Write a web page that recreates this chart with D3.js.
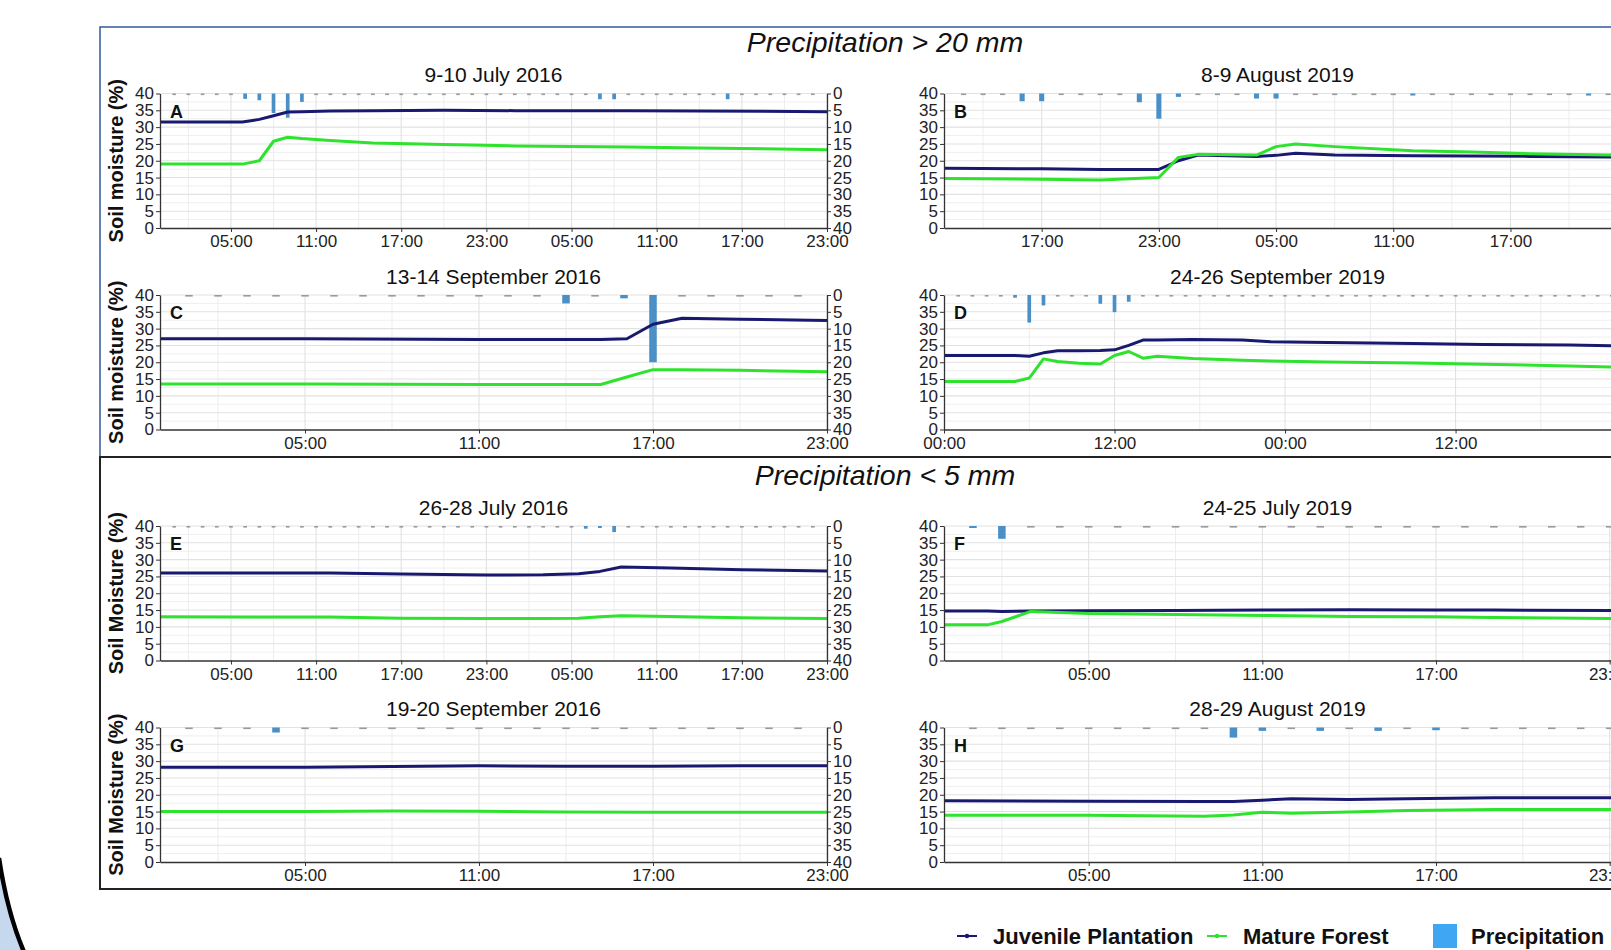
<!DOCTYPE html>
<html>
<head>
<meta charset="utf-8">
<script src="https://cdn.jsdelivr.net/npm/d3@7"></script>
<style>
  body { margin: 0; background: #fff; overflow: hidden; }
  svg { display: block; font-family: "Liberation Sans", Arial, sans-serif; }
</style>
</head>
<body>
<svg id="chart" width="1611" height="950"></svg>
<script>
// soil moisture (%) at breakpoint hours (hours from 00:00 of the first day)
const hoursA = [0, 5.8, 7, 8, 9, 10, 12, 15, 20, 25, 33, 38, 47];
const juvA   = [31.5, 31.5, 32.3, 33.4, 34.5, 34.6, 34.8, 34.9, 35, 34.9, 34.9, 34.8, 34.6];
const matA   = [19, 19, 20, 25.8, 27, 26.6, 26, 25.3, 24.8, 24.4, 24.1, 23.8, 23.3];

const hoursB = [12, 17, 20, 23, 24, 25, 28, 29, 30, 32, 36, 39, 42, 46.3];
const juvB   = [17.8, 17.6, 17.4, 17.4, 20, 21.7, 21.3, 21.6, 22.2, 21.7, 21.5, 21.4, 21.3, 21.1];
const matB   = [14.7, 14.5, 14.3, 15, 21, 21.9, 21.7, 24.2, 25, 24.2, 23, 22.6, 22.1, 21.7];

const hoursC = [0, 5, 11, 15.2, 16.1, 17, 18, 20, 23];
const juvC   = [27, 27, 26.8, 26.8, 27, 31.3, 33.1, 32.8, 32.4];
const matC   = [13.5, 13.5, 13.4, 13.4, 15.6, 17.8, 17.8, 17.6, 17.2];

const hoursD = [0, 5, 6, 7, 8, 9.5, 11, 12, 13, 14, 15, 17.5, 21, 23, 27, 33, 38, 44, 47.15];
const juvD   = [22, 22, 21.8, 22.8, 23.4, 23.4, 23.5, 23.7, 25, 26.6, 26.6, 26.8, 26.6, 26.1, 25.9, 25.6, 25.3, 25.1, 24.9];
const matD   = [14.3, 14.3, 15.3, 21, 20.2, 19.7, 19.5, 22, 23.2, 21.2, 21.8, 21.1, 20.6, 20.4, 20.1, 19.8, 19.4, 18.9, 18.6];

const hoursE = [0, 12, 17, 23, 27, 29.5, 31, 32.5, 36, 41, 47];
const juvE   = [26, 26, 25.7, 25.4, 25.5, 25.8, 26.5, 27.8, 27.5, 27, 26.6];
const matE   = [13, 12.9, 12.6, 12.5, 12.5, 12.6, 13, 13.3, 13.1, 12.7, 12.5];

const hoursF = [0, 1.5, 2, 3, 5, 8, 11, 14, 17, 19, 23.15];
const juvF   = [14.7, 14.7, 14.6, 14.7, 14.8, 14.9, 15, 15.1, 15, 15, 14.9];
const matF   = [10.6, 10.6, 11.6, 14.6, 14.0, 13.7, 13.4, 13.1, 13.0, 12.8, 12.5];

const hoursG = [0, 5, 8, 11, 14, 17, 20, 23];
const juvG   = [28.2, 28.2, 28.4, 28.6, 28.5, 28.5, 28.6, 28.6];
const matG   = [15, 15, 15.2, 15.1, 14.9, 14.8, 14.8, 14.8];

const hoursH = [0, 5, 9, 10, 11, 12, 14, 16, 19, 23.15];
const juvH   = [18.2, 18.1, 18, 18, 18.4, 18.8, 18.6, 18.8, 19.1, 19.1];
const matH   = [13.9, 13.9, 13.6, 14, 14.8, 14.5, 14.9, 15.3, 15.6, 15.6];

// hourly precipitation (mm), first value at the panel's start hour
const rainA = [0,0,0,0,0,0,1.6,2.0,5.8,7.2,2.5,0,0,0,0,0,0,0,0,0,0,0,0,0,
               0,0,0,0,0,0,0,1.7,1.7,0,0,0,0,0,0,0,1.7,0,0,0,0,0,0,0];
const rainB = [0,0,0,0,2.3,2.3,0,0,0,0,2.6,7.5,1.0,0,0,0,1.5,1.5,
               0,0,0,0,0,0,0.5,0,0,0,0,0,0,0,0,0.6,0];
const rainC = [0,0,0,0,0,0,0,0,0,0,0,0,0,0,2.5,0,1.0,20,0,0,0,0,0,0];
const rainD = [0,0,0,0,0,0.8,8.2,3.1,0,0,0,2.6,5.1,2.0,0,0,0,0,0,0,0,0,0,0,
               0,0,0,0,0,0,0,0,0,0,0,0,0,0,0,0,0,0,0,0,0,0,0,0];
const rainE = [0,0,0,0,0,0,0,0,0,0,0,0,0,0,0,0,0,0,0,0,0,0,0,0,
               0,0,0,0,0,0,0.8,0.6,1.8,0,0,0,0,0,0,0,0,0,0,0,0,0,0,0];
const rainF = [0,0.6,3.8,0,0,0,0,0,0,0,0,0,0,0,0,0,0,0,0,0,0,0,0,0];
const rainG = [0,0,0,0,1.5,0,0,0,0,0,0,0,0,0,0,0,0,0,0,0,0,0,0,0];
const rainH = [0,0,0,0,0,0,0,0,0,0,3.0,1.0,0,1.0,0,1.0,0,0.8,0,0,0,0,0,0];

// axis ticks
const ticksTwoDay  = [5, 11, 17, 23, 29, 35, 41, 47];
const labelsTwoDay = ["05:00", "11:00", "17:00", "23:00", "05:00", "11:00", "17:00", "23:00"];
const ticksOneDay  = [5, 11, 17, 23];
const labelsOneDay = ["05:00", "11:00", "17:00", "23:00"];
const ticksB  = [17, 23, 29, 35, 41];
const labelsB = ["17:00", "23:00", "05:00", "11:00", "17:00"];
const ticksD  = [0, 12, 24, 36];
const labelsD = ["00:00", "12:00", "00:00", "12:00"];

const panels = [
  { key: "A", title: "9-10 July 2016", col: 0, row: 0, domain: [0, 47], ticks: ticksTwoDay, labels: labelsTwoDay, hours: hoursA, juv: juvA, mat: matA, rain: rainA, rainStart: 0 },
  { key: "B", title: "8-9 August 2019", col: 1, row: 0, domain: [12, 46.3], ticks: ticksB, labels: labelsB, hours: hoursB, juv: juvB, mat: matB, rain: rainB, rainStart: 12 },
  { key: "C", title: "13-14 September 2016", col: 0, row: 1, domain: [0, 23], ticks: ticksOneDay, labels: labelsOneDay, hours: hoursC, juv: juvC, mat: matC, rain: rainC, rainStart: 0 },
  { key: "D", title: "24-26 September 2019", col: 1, row: 1, domain: [0, 47.15], ticks: ticksD, labels: labelsD, hours: hoursD, juv: juvD, mat: matD, rain: rainD, rainStart: 0 },
  { key: "E", title: "26-28 July 2016", col: 0, row: 2, domain: [0, 47], ticks: ticksTwoDay, labels: labelsTwoDay, hours: hoursE, juv: juvE, mat: matE, rain: rainE, rainStart: 0 },
  { key: "F", title: "24-25 July 2019", col: 1, row: 2, domain: [0, 23.15], ticks: ticksOneDay, labels: labelsOneDay, hours: hoursF, juv: juvF, mat: matF, rain: rainF, rainStart: 0 },
  { key: "G", title: "19-20 September 2016", col: 0, row: 3, domain: [0, 23], ticks: ticksOneDay, labels: labelsOneDay, hours: hoursG, juv: juvG, mat: matG, rain: rainG, rainStart: 0 },
  { key: "H", title: "28-29 August 2019", col: 1, row: 3, domain: [0, 23.15], ticks: ticksOneDay, labels: labelsOneDay, hours: hoursH, juv: juvH, mat: matH, rain: rainH, rainStart: 0 }
];

const yTitles = ["Soil moisture (%)", "Soil moisture (%)", "Soil Moisture (%)", "Soil Moisture (%)"];

const colX = [[160, 827], [944, 1614]];
const rowTop = [93.5, 295, 526, 727.5];
const plotH = 134.5;

const navy = "#191970";
const green = "#2ee32e";
const rainColor = "#4a8fc6";

const svg = d3.select("#chart");

// decorative arc in the lower-left corner
svg.append("path")
  .attr("d", "M0,866 Q7,912 24,952 L0,952 Z")
  .attr("fill", "#c6d8ee");
svg.append("path")
  .attr("d", "M-1,858 Q7,912 24,952")
  .attr("fill", "none")
  .attr("stroke", "#000")
  .attr("stroke-width", 4.5);

// section boxes
svg.append("rect").attr("x", 100).attr("y", 27).attr("width", 1530).attr("height", 430)
  .attr("fill", "none").attr("stroke", "#34589a").attr("stroke-width", 1.5);
svg.append("rect").attr("x", 100).attr("y", 457).attr("width", 1530).attr("height", 432)
  .attr("fill", "none").attr("stroke", "#222").attr("stroke-width", 2);

svg.append("text").attr("x", 885).attr("y", 52).attr("text-anchor", "middle")
  .attr("font-size", 28.5).attr("font-style", "italic").attr("fill", "#111")
  .text("Precipitation > 20 mm");
svg.append("text").attr("x", 885).attr("y", 485).attr("text-anchor", "middle")
  .attr("font-size", 28.5).attr("font-style", "italic").attr("fill", "#111")
  .text("Precipitation < 5 mm");

const yMajor = d3.range(0, 41, 5);
const yMinor = d3.range(2.5, 40, 5);

panels.forEach(p => {
  const [x0, x1] = colX[p.col];
  const top = rowTop[p.row];
  const bottom = top + plotH;
  const x = d3.scaleLinear().domain(p.domain).range([x0, x1]);
  const y = d3.scaleLinear().domain([0, 40]).range([bottom, top]);
  const r = d3.scaleLinear().domain([0, 40]).range([top, bottom]);
  const g = svg.append("g");

  // grid
  const step = p.ticks[1] - p.ticks[0];
  const vMinor = d3.range(p.ticks[0] - step / 2, p.domain[1], step).filter(h => h > p.domain[0]);
  const vMajor = p.ticks.filter(h => h > p.domain[0]);
  g.selectAll(".hmin").data(yMinor).join("line")
    .attr("x1", x0).attr("x2", x1).attr("y1", d => y(d)).attr("y2", d => y(d))
    .attr("stroke", "#efefef").attr("stroke-width", 1);
  g.selectAll(".vmin").data(vMinor).join("line")
    .attr("x1", d => x(d)).attr("x2", d => x(d)).attr("y1", top).attr("y2", bottom)
    .attr("stroke", "#ededed").attr("stroke-width", 1);
  g.selectAll(".hmaj").data(yMajor.slice(1)).join("line")
    .attr("x1", x0).attr("x2", x1).attr("y1", d => y(d)).attr("y2", d => y(d))
    .attr("stroke", "#e2e2e2").attr("stroke-width", 1.1);
  g.selectAll(".vmaj").data(vMajor).join("line")
    .attr("x1", d => x(d)).attr("x2", d => x(d)).attr("y1", top).attr("y2", bottom)
    .attr("stroke", "#e2e2e2").attr("stroke-width", 1.1);

  // precipitation bars hanging from the top
  const bw = (x(1) - x(0)) * 0.26;
  const rain = p.rain.map((v, i) => ({ h: p.rainStart + i, v }));
  g.selectAll(".rain").data(rain.filter(d => d.h > p.domain[0] && d.h < p.domain[1])).join("rect")
    .attr("x", d => x(d.h) - bw / 2)
    .attr("y", top)
    .attr("width", bw)
    .attr("height", d => d.v > 0 ? Math.max(r(d.v) - top, 2) : 1.6)
    .attr("fill", d => d.v > 0 ? rainColor : "#9a9a9a");

  // soil moisture lines
  const pts = s => p.hours.map((h, i) => [h, s[i]]);
  const line = d3.line().x(d => x(d[0])).y(d => y(d[1]));
  g.append("path").attr("d", line(pts(p.juv)))
    .attr("fill", "none").attr("stroke", navy).attr("stroke-width", 3).attr("stroke-linejoin", "round");
  g.append("path").attr("d", line(pts(p.mat)))
    .attr("fill", "none").attr("stroke", green).attr("stroke-width", 3).attr("stroke-linejoin", "round");

  // axes
  const styleAxis = a => {
    a.select(".domain").attr("stroke", "#333").attr("stroke-width", 1.3);
    a.selectAll(".tick line").attr("stroke", "#333");
    a.selectAll(".tick text").attr("font-size", 17).attr("fill", "#222")
      .attr("font-family", "'Liberation Sans', Arial, sans-serif");
  };
  g.append("g").attr("transform", `translate(${x0},0)`)
    .call(d3.axisLeft(y).tickValues(yMajor).tickSize(4).tickSizeOuter(0).tickPadding(2))
    .call(styleAxis);
  g.append("g").attr("transform", `translate(0,${bottom})`)
    .call(d3.axisBottom(x).tickValues(p.ticks).tickFormat((d, i) => p.labels[i]).tickSize(4).tickSizeOuter(0))
    .call(styleAxis);
  if (p.col === 0) {
    g.append("g").attr("transform", `translate(${x1},0)`)
      .call(d3.axisRight(r).tickValues(yMajor).tickSize(4).tickSizeOuter(0).tickPadding(2))
      .call(styleAxis);
  }

  // panel letter and title
  g.append("text").attr("x", x0 + 10).attr("y", top + 24)
    .attr("font-size", 18).attr("font-weight", "bold").attr("fill", "#111").text(p.key);
  g.append("text").attr("x", (x0 + (p.col === 0 ? x1 : 1611)) / 2).attr("y", top - 11.5)
    .attr("text-anchor", "middle").attr("font-size", 21).attr("fill", "#111").text(p.title);

  if (p.col === 0) {
    g.append("text")
      .attr("transform", `translate(116,${(top + bottom) / 2}) rotate(-90)`)
      .attr("text-anchor", "middle").attr("dominant-baseline", "central")
      .attr("font-size", 20).attr("font-weight", "bold").attr("fill", "#111")
      .text(yTitles[p.row]);
  }
});

// legend
const legend = svg.append("g").attr("font-size", 22).attr("font-weight", "bold").attr("fill", "#111");
[[957, navy, "Juvenile Plantation"], [1207, green, "Mature Forest"]].forEach(([lx, c, t]) => {
  legend.append("line").attr("x1", lx).attr("x2", lx + 20).attr("y1", 936).attr("y2", 936)
    .attr("stroke", c).attr("stroke-width", 2);
  legend.append("circle").attr("cx", lx + 10).attr("cy", 936).attr("r", 2.2).attr("fill", c);
  legend.append("text").attr("x", lx + 36).attr("y", 944).text(t);
});
legend.append("rect").attr("x", 1433).attr("y", 924).attr("width", 24).attr("height", 24).attr("fill", "#3ea6f3");
legend.append("text").attr("x", 1471).attr("y", 944).text("Precipitation (mm)");
</script>
</body>
</html>
